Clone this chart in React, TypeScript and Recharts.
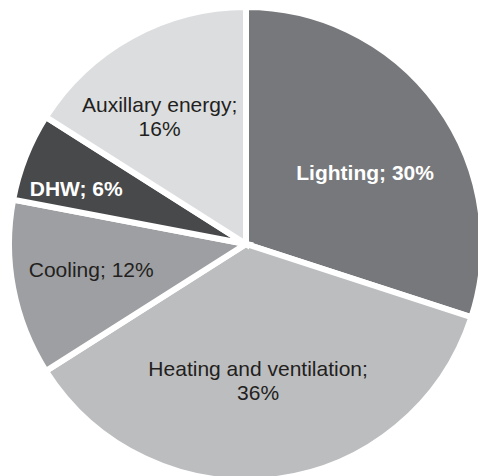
import { PieChart, Pie, Cell } from 'recharts'

// shares of the energy use, clockwise from 12 o'clock
const categories = ['Lighting', 'Heating and ventilation', 'Cooling', 'DHW', 'Auxillary energy']
const shares = [30, 36, 12, 6, 16]
const colors = ['#77787b', '#bcbdbf', '#9e9fa2', '#48494b', '#dcdddf']

// label look: bold white on dark slices, two lines on the long ones
const boldLabels = ['Lighting', 'DHW']
const twoLineLabels = ['Heating and ventilation', 'Auxillary energy']
// where the label sits: fraction of outer radius + angle nudge (deg)
const labelPlace: Record<string, [number, number]> = {
  Lighting: [0.587, -4.9],
  'Heating and ventilation': [0.575, -2.1],
  Cooling: [0.662, -1.4],
  DHW: [0.754, 3.4],
  'Auxillary energy': [0.65, 5.3],
}

const data = categories.map((name, i) => ({ name, value: shares[i] }))

const RAD = Math.PI / 180

function renderLabel(props: any) {
  const { cx, cy, midAngle, outerRadius, name, value } = props
  const [f, nudge] = labelPlace[name] || [0.6, 0]
  const a = (midAngle + nudge) * RAD
  const r = outerRadius * f
  const x = cx + r * Math.cos(a)
  const y = cy - r * Math.sin(a)
  const bold = boldLabels.includes(name)
  const common = {
    textAnchor: 'middle' as const,
    fontSize: 21,
    fontFamily: '"Liberation Sans", Arial, sans-serif',
    fontWeight: bold ? 700 : 400,
    fill: bold ? '#ffffff' : '#231f20',
  }
  if (twoLineLabels.includes(name)) {
    return (
      <text x={x} y={y} {...common}>
        <tspan x={x} dy={-4}>{`${name};`}</tspan>
        <tspan x={x} dy={24}>{`${value}%`}</tspan>
      </text>
    )
  }
  return (
    <text x={x} y={y} dy={7.5} {...common}>
      {`${name}; ${value}%`}
    </text>
  )
}

export default function App() {
  return (
    <div style={{ position: 'absolute', left: 0, top: 0, width: 478, height: 476, background: '#fff' }}>
      <PieChart width={478} height={476} margin={{ top: 0, right: 0, bottom: 0, left: 0 }}>
        <Pie
          data={data}
          dataKey="value"
          nameKey="name"
          cx={246}
          cy={244}
          outerRadius={237}
          startAngle={90}
          endAngle={-270}
          stroke="#ffffff"
          strokeWidth={6}
          label={renderLabel}
          labelLine={false}
          isAnimationActive={false}
        >
          {data.map((d, i) => (
            <Cell key={d.name} fill={colors[i]} />
          ))}
        </Pie>
      </PieChart>
    </div>
  )
}
